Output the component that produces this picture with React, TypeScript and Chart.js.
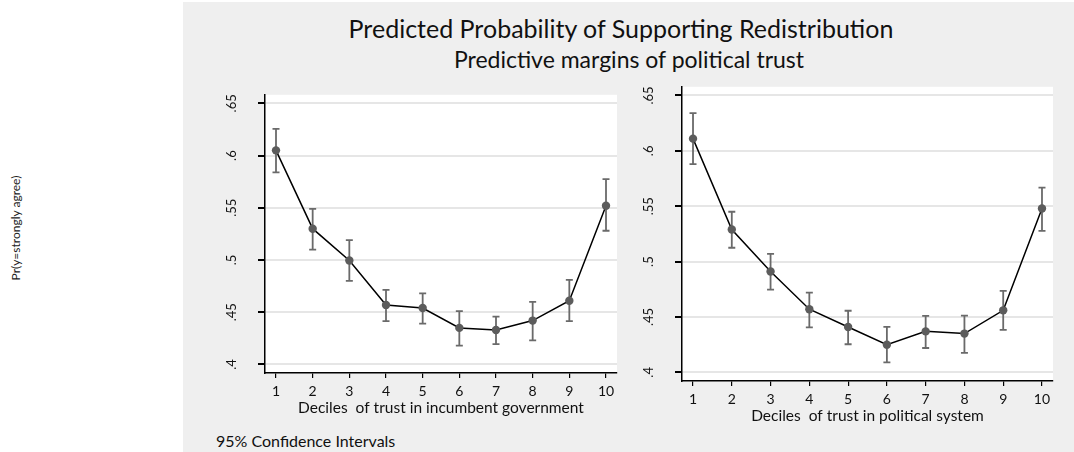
import React, { useEffect, useRef } from 'react';
import { Chart, registerables } from 'chart.js';

Chart.register(...registerables);

const deciles = [1, 2, 3, 4, 5, 6, 7, 8, 9, 10];
const yTickValues = [0.4, 0.45, 0.5, 0.55, 0.6, 0.65];
const yTickLabels = ['.4', '.45', '.5', '.55', '.6', '.65'];

const govMean = [0.605, 0.530, 0.4995, 0.457, 0.454, 0.435, 0.433, 0.442, 0.461, 0.552];
const govLow = [0.584, 0.510, 0.480, 0.4415, 0.439, 0.418, 0.4195, 0.423, 0.4415, 0.528];
const govHigh = [0.6256, 0.549, 0.519, 0.4714, 0.468, 0.451, 0.4458, 0.460, 0.481, 0.5774];

const sysMean = [0.611, 0.529, 0.491, 0.457, 0.441, 0.425, 0.437, 0.435, 0.456, 0.548];
const sysLow = [0.588, 0.5125, 0.4747, 0.4407, 0.4254, 0.409, 0.422, 0.4176, 0.4383, 0.5278];
const sysHigh = [0.634, 0.545, 0.507, 0.472, 0.4556, 0.441, 0.451, 0.4513, 0.4735, 0.5667];

const mainTitle = 'Predicted Probability of Supporting Redistribution';
const subTitle = 'Predictive margins of political trust';
const yAxisTitle = 'Pr(y=strongly agree)';
const govTitle = 'Deciles  of trust in incumbent government';
const sysTitle = 'Deciles  of trust in political system';
const footNote = '95% Confidence Intervals';

const FONT = 'Lato, "Open Sans", sans-serif';

const bgPlugin = {
  id: 'plotBg',
  beforeDraw(chart: any) {
    const { ctx, chartArea } = chart;
    ctx.save();
    ctx.fillStyle = '#ffffff';
    ctx.fillRect(chartArea.left, chartArea.top, chartArea.right - chartArea.left, chartArea.bottom - chartArea.top);
    ctx.restore();
  },
};

function makeErrPlugin(low: number[], high: number[]) {
  return {
    id: 'errBars',
    beforeDatasetsDraw(chart: any) {
      const { ctx } = chart;
      const xs = chart.scales.x;
      const ys = chart.scales.y;
      ctx.save();
      ctx.strokeStyle = '#6a6a6a';
      ctx.lineWidth = 1.8;
      deciles.forEach((d, i) => {
        const x = xs.getPixelForValue(d);
        const y1 = ys.getPixelForValue(low[i]);
        const y2 = ys.getPixelForValue(high[i]);
        ctx.beginPath();
        ctx.moveTo(x, y1);
        ctx.lineTo(x, y2);
        ctx.moveTo(x - 3.5, y1);
        ctx.lineTo(x + 3.5, y1);
        ctx.moveTo(x - 3.5, y2);
        ctx.lineTo(x + 3.5, y2);
        ctx.stroke();
      });
      ctx.restore();
    },
  };
}

type PanelProps = {
  mean: number[];
  low: number[];
  high: number[];
  xTitle: string;
  left: number;
  top: number;
  width: number;
  height: number;
  yWidth: number;
  xHeight: number;
  padTop: number;
  padRight: number;
  xMin: number;
  xMax: number;
  yMin: number;
  yMax: number;
};

function Panel(p: PanelProps) {
  const ref = useRef<HTMLCanvasElement | null>(null);
  useEffect(() => {
    if (!ref.current) return;
    const chart = new Chart(ref.current, {
      type: 'line',
      data: {
        datasets: [
          {
            data: deciles.map((d, i) => ({ x: d, y: p.mean[i] })),
            borderColor: '#000000',
            borderWidth: 1.5,
            pointRadius: 4.2,
            pointBackgroundColor: '#5c5c5c',
            pointBorderColor: '#5c5c5c',
            pointBorderWidth: 0,
            tension: 0,
          },
        ],
      },
      options: {
        animation: false,
        responsive: false,
        devicePixelRatio: 1,
        layout: { padding: { top: p.padTop, right: p.padRight, left: 0, bottom: 0 } },
        plugins: { legend: { display: false }, tooltip: { enabled: false } },
        scales: {
          x: {
            type: 'linear',
            min: p.xMin,
            max: p.xMax,
            afterBuildTicks: (s: any) => {
              s.ticks = deciles.map((v) => ({ value: v }));
            },
            afterFit: (s: any) => {
              s.height = p.xHeight;
            },
            grid: { drawOnChartArea: false, color: '#000000', tickLength: 5, lineWidth: 1.2 },
            border: { color: '#000000', width: 1.5 },
            ticks: {
              autoSkip: false,
              maxRotation: 0,
              minRotation: 0,
              padding: 5,
              color: '#111111',
              font: { family: FONT, size: 14 },
              callback: (v: any) => String(v),
            },
            title: {
              display: true,
              text: p.xTitle,
              color: '#111111',
              font: { family: FONT, size: 15.5 },
              padding: { top: 0, bottom: 0 },
            },
          },
          y: {
            type: 'linear',
            min: p.yMin,
            max: p.yMax,
            afterBuildTicks: (s: any) => {
              s.ticks = yTickValues.map((v) => ({ value: v }));
            },
            afterFit: (s: any) => {
              s.width = p.yWidth;
            },
            grid: { color: '#e6e6e6', lineWidth: 2, tickColor: '#000000', tickLength: 7 },
            border: { color: '#000000', width: 1.5 },
            ticks: {
              minRotation: 90,
              maxRotation: 90,
              crossAlign: 'center',
              padding: 17,
              color: '#111111',
              font: { family: FONT, size: 13 },
              callback: (_v: any, i: number) => yTickLabels[i],
            },
          },
        },
      } as any,
      plugins: [bgPlugin, makeErrPlugin(p.low, p.high)],
    });
    return () => chart.destroy();
  }, []);
  return (
    <canvas
      ref={ref}
      width={p.width}
      height={p.height}
      style={{ position: 'absolute', left: p.left, top: p.top, width: p.width, height: p.height }}
    />
  );
}

export default function App() {
  useEffect(() => {
    document.body.style.margin = '0';
  }, []);
  return (
    <div style={{ position: 'relative', width: 1074, height: 452, background: '#ffffff', overflow: 'hidden', fontFamily: FONT }}>
      <div style={{ position: 'absolute', left: 183, top: 2, width: 891, height: 450, background: '#efefef' }} />
      <div
        style={{ position: 'absolute', left: 271, width: 700, top: 15, textAlign: 'center', fontSize: 25, lineHeight: '26px', color: '#111', whiteSpace: 'nowrap' }}
      >
        {mainTitle}
      </div>
      <div
        style={{ position: 'absolute', left: 279, width: 700, top: 47, textAlign: 'center', fontSize: 23, lineHeight: '24px', color: '#111', whiteSpace: 'nowrap' }}
      >
        {subTitle}
      </div>
      <div
        style={{
          position: 'absolute',
          left: 15,
          top: 228,
          transform: 'translate(-50%, -50%) rotate(-90deg)',
          whiteSpace: 'nowrap',
          fontSize: 12,
          color: '#222',
        }}
      >
        {yAxisTitle}
      </div>
      <div style={{ position: 'absolute', left: 216, top: 431, fontSize: 16, lineHeight: '20px', color: '#111' }}>{footNote}</div>
      <Panel
        mean={govMean}
        low={govLow}
        high={govHigh}
        xTitle={govTitle}
        left={190}
        top={70}
        width={437}
        height={347}
        yWidth={75}
        xHeight={44}
        padTop={12}
        padRight={10}
        xMin={0.7}
        xMax={10.3}
        yMin={0.3918}
        yMax={0.6582}
      />
      <Panel
        mean={sysMean}
        low={sysLow}
        high={sysHigh}
        xTitle={sysTitle}
        left={630}
        top={62}
        width={433}
        height={363}
        yWidth={52}
        xHeight={44}
        padTop={12}
        padRight={10}
        xMin={0.716}
        xMax={10.284}
        yMin={0.3922}
        yMax={0.6578}
      />
    </div>
  );
}
